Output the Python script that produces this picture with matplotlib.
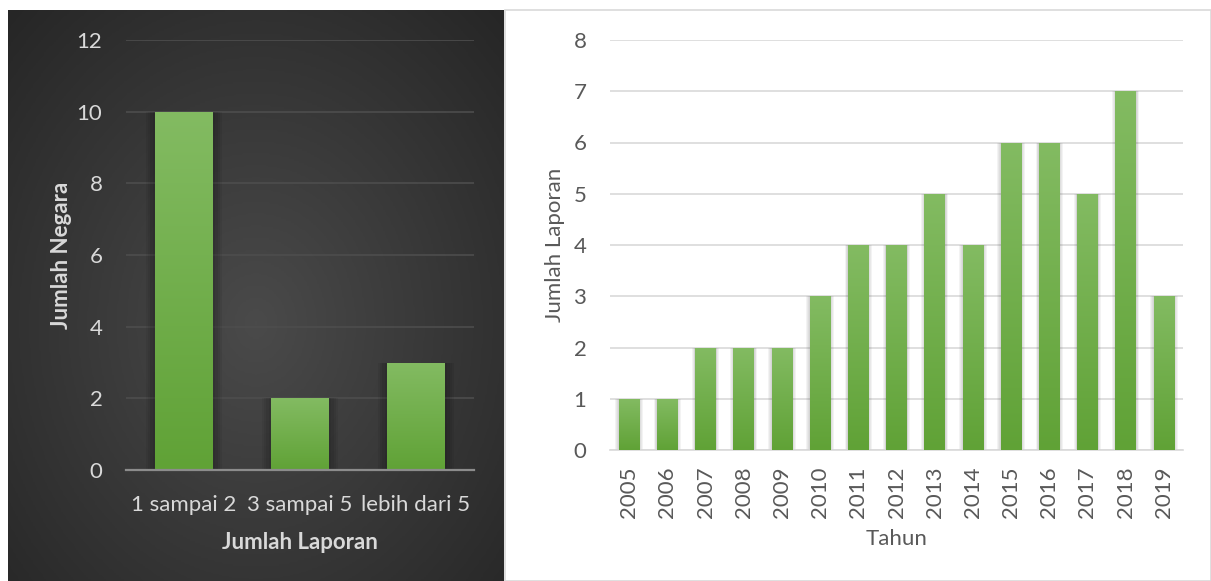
import numpy as np
import matplotlib
matplotlib.use("Agg")
import matplotlib.pyplot as plt
from matplotlib.patches import Rectangle
from matplotlib.colors import LinearSegmentedColormap

plt.rcParams['font.family'] = ['Lato', 'DejaVu Sans']

# jumlah negara per kelompok jumlah laporan
kelompok = ["1 sampai 2", "3 sampai 5", "lebih dari 5"]
jumlah_negara = [10, 2, 3]

# jumlah laporan per tahun
tahun = [str(t) for t in range(2005, 2020)]
jumlah_laporan = [1, 1, 2, 2, 2, 3, 4, 4, 5, 4, 6, 6, 5, 7, 3]

W, H = 1211, 581
FS = 16
fig = plt.figure(figsize=(W / 100, H / 100), dpi=100)
fig.patch.set_facecolor("white")

green = LinearSegmentedColormap.from_list("hijau", ["#60a236", "#83bb62"])


def gradient_bars(ax, x, heights, width, shadow):
    bars = ax.bar(x, heights, width=width, color="none", zorder=3)
    grad = np.linspace(0, 1, 256).reshape(-1, 1)
    for b in bars:
        bx, by = b.get_x(), b.get_y()
        bw, bh = b.get_width(), b.get_height()
        # soft shadow around the bar
        for k in range(1, 5):
            pad = bw * 0.04 * k
            ax.add_patch(Rectangle((bx - pad, by - pad * 0.3), bw + 2 * pad, bh + pad * 0.3,
                                   facecolor=shadow, alpha=0.06, edgecolor="none", zorder=2))
        im = ax.imshow(grad, cmap=green, origin="lower", aspect="auto",
                       extent=(bx, bx + bw, by, by + bh), zorder=3)
        im.set_clip_path(b)
    return bars


# panel kiri: latar gelap radial
bg = fig.add_axes([8 / W, 0, 496 / W, 571 / H])
yy, xx = np.mgrid[0:1:300j, 0:1:300j]
r = np.sqrt(((xx - 0.5) / 0.75) ** 2 + ((yy - 0.45) / 0.8) ** 2)
bg_cmap = LinearSegmentedColormap.from_list("gelap", ["#4a4a4a", "#262626"])
bg.imshow(np.clip(r, 0, 1), cmap=bg_cmap, aspect="auto", extent=(0, 1, 0, 1), origin="lower")
bg.set_axis_off()

ax1 = fig.add_axes([126 / W, 111 / H, 348 / W, 430 / H])
ax1.set_facecolor("none")
x1 = np.arange(len(kelompok))
gradient_bars(ax1, x1, jumlah_negara, 0.5, "black")
ax1.set_xlim(-0.5, len(kelompok) - 0.5)
ax1.set_ylim(0, 12)
ax1.set_yticks(range(0, 13, 2))
ax1.set_xticks(x1)
ax1.set_xticklabels(kelompok)
ax1.grid(axis="y", color="#4d4d4d", linewidth=1.2, zorder=0)
ax1.set_axisbelow(True)
for s in ["top", "right", "left"]:
    ax1.spines[s].set_visible(False)
ax1.spines["bottom"].set_color("#8c8c8c")
ax1.spines["bottom"].set_linewidth(1.6)
ax1.spines["bottom"].set_zorder(4)
ax1.tick_params(length=0, colors="#d9d9d9", labelsize=FS, pad=18)
ax1.tick_params(axis="y", pad=17)
ax1.set_ylabel("Jumlah Negara", color="#d9d9d9", fontsize=FS, fontweight="bold", labelpad=3)
ax1.set_xlabel("Jumlah Laporan", color="#d9d9d9", fontsize=FS, fontweight="bold", labelpad=12)

# panel kanan: bingkai tipis
fig.add_artist(Rectangle((505 / W, 0), 706 / W, 571 / H, transform=fig.transFigure,
                         facecolor="white", edgecolor="#d9d9d9", linewidth=1.2, zorder=-1))

ax2 = fig.add_axes([610 / W, 131 / H, 573 / W, 410 / H])
ax2.set_facecolor("none")
x2 = np.arange(len(tahun))
gradient_bars(ax2, x2, jumlah_laporan, 0.54, "#404040")
ax2.set_xlim(-0.5, len(tahun) - 0.5)
ax2.set_ylim(0, 8)
ax2.set_yticks(range(0, 9))
ax2.set_xticks(x2)
ax2.set_xticklabels(tahun, rotation=90)
ax2.grid(axis="y", color="#d9d9d9", linewidth=1.2, zorder=0)
ax2.set_axisbelow(True)
for s in ["top", "right", "left"]:
    ax2.spines[s].set_visible(False)
ax2.spines["bottom"].set_color("#d9d9d9")
ax2.spines["bottom"].set_linewidth(1.2)
ax2.tick_params(length=0, colors="#595959", labelsize=FS, pad=12)
ax2.tick_params(axis="y", pad=17)
ax2.set_ylabel("Jumlah Laporan", color="#595959", fontsize=FS, labelpad=6)
ax2.set_xlabel("Tahun", color="#595959", fontsize=FS, labelpad=8)

fig.savefig("out.png", dpi=100)
